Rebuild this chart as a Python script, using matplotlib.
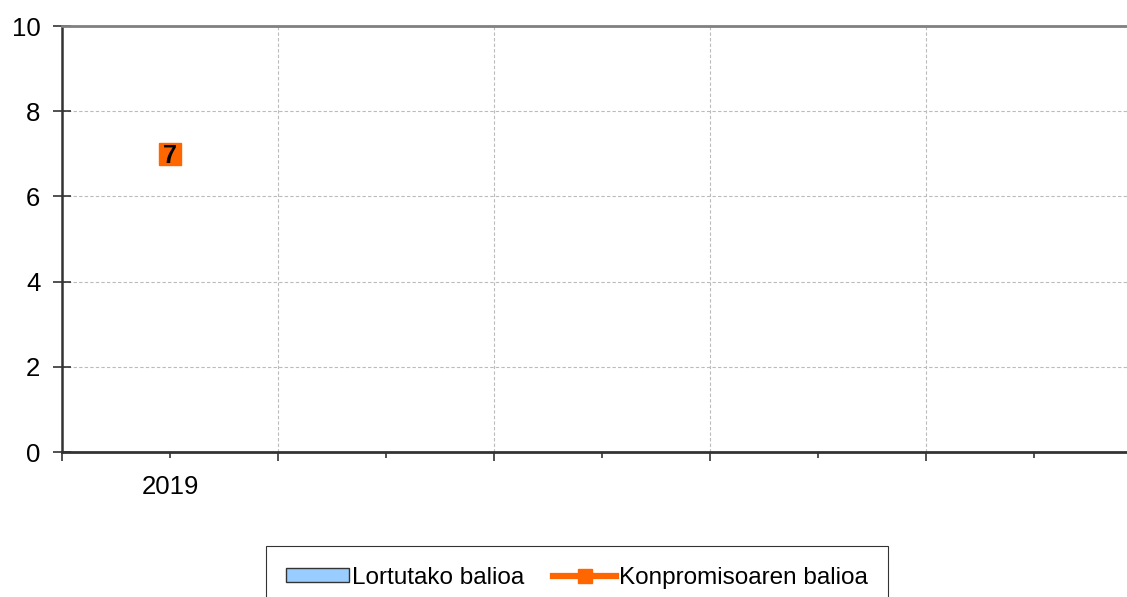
import matplotlib.pyplot as plt
import numpy as np
from matplotlib.patches import Patch
from matplotlib.lines import Line2D

plt.rcParams['font.family'] = ['Liberation Sans', 'DejaVu Sans']

years = ['2019', '', '', '', '']
lortutako = [np.nan, np.nan, np.nan, np.nan, np.nan]
konpromiso = [7, np.nan, np.nan, np.nan, np.nan]

orange = '#FF6600'
blue = '#99CCFF'

fig = plt.figure(figsize=(11.27, 5.97), dpi=100)
ax = fig.add_axes([62/1127, 145/597, 1080/1127, 426/597])

x = np.arange(len(years))
ax.bar(x, lortutako, width=0.6, color=blue, edgecolor='#333333')
ax.plot(x, konpromiso, color=orange, lw=4, marker='s', ms=15.5, zorder=3)
for xi, v in zip(x, konpromiso):
    if not np.isnan(v):
        ax.text(xi, v, '%d' % v, ha='center', va='center_baseline', fontsize=18,
                fontweight='bold', color='black', zorder=4)

ax.set_xlim(-0.5, len(years) - 0.5)
ax.set_ylim(0, 10)

# category borders as major ticks, labels on category centers
ax.set_xticks(np.arange(len(years) + 1) - 0.5)
ax.set_xticklabels([])
ax.set_xticks(x, minor=True)
ax.set_xticklabels(years, minor=True, fontsize=18.5)
ax.tick_params(axis='x', which='major', length=6.5, width=1.2, color='#333333')
ax.tick_params(axis='x', which='minor', length=4.5, width=1.2, color='#333333', pad=12)

ax.set_yticks(np.arange(0, 11, 2))
ax.tick_params(axis='y', direction='inout', length=13, width=1.2, color='#333333',
               labelsize=18.5, pad=9)

for yv in [2, 4, 6, 8]:
    ax.axhline(yv, color='#BBBBBB', lw=0.8, ls=(0, (3, 2)), zorder=0)
for xv in np.arange(1, len(years)) - 0.5:
    ax.axvline(xv, color='#BBBBBB', lw=0.8, ls=(0, (3, 2)), zorder=0)

ax.spines['left'].set_color('#333333')
ax.spines['left'].set_linewidth(1.8)
ax.spines['bottom'].set_color('#333333')
ax.spines['bottom'].set_linewidth(2)
ax.spines['top'].set_color('#808080')
ax.spines['top'].set_linewidth(2)
ax.spines['right'].set_visible(False)

handles = [Patch(facecolor=blue, edgecolor='#333333', lw=1),
           Line2D([0], [0], color=orange, lw=4.5, marker='s', ms=10)]
leg = fig.legend(handles, ['Lortutako balioa', 'Konpromisoaren balioa'],
                 loc='upper center', bbox_to_anchor=(0.512, 0.0854), ncol=2,
                 fontsize=17.5, frameon=True, fancybox=False, edgecolor='black',
                 handlelength=2.6, handleheight=0.55, handletextpad=0.1,
                 columnspacing=1.2, borderpad=0.85, borderaxespad=0)
leg.get_frame().set_linewidth(0.8)

fig.savefig('out.png', dpi=100)
